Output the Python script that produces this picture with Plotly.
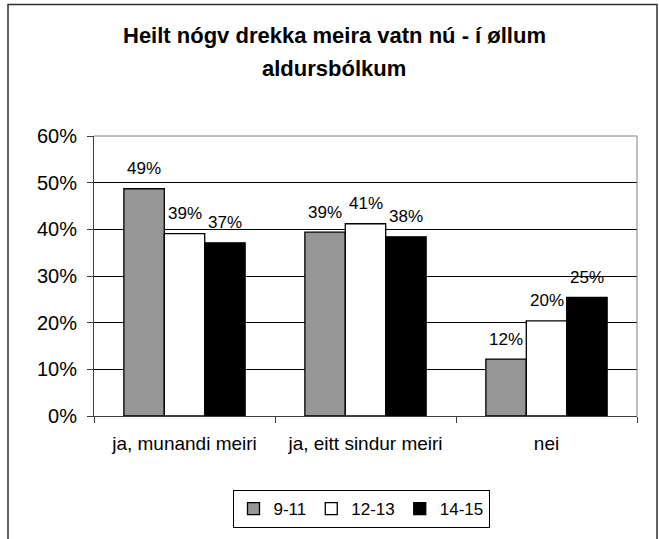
import plotly.graph_objects as go

categories = ["ja, munandi meiri", "ja, eitt sindur meiri", "nei"]
series_names = ["9-11", "12-13", "14-15"]
values_9_11 = [0.487, 0.394, 0.122]
values_12_13 = [0.391, 0.412, 0.204]
values_14_15 = [0.371, 0.384, 0.254]
label_9_11 = ["49%", "39%", "12%"]
label_12_13 = ["39%", "41%", "20%"]
label_14_15 = ["37%", "38%", "25%"]
y_ticks = [0, 0.1, 0.2, 0.3, 0.4, 0.5, 0.6]
y_tick_labels = ["0%", "10%", "20%", "30%", "40%", "50%", "60%"]
title_lines = ["Heilt nógv drekka meira vatn nú - í øllum", "aldursbólkum"]

colors = ["#969696", "#ffffff", "#000000"]
series_values = [values_9_11, values_12_13, values_14_15]
series_labels = [label_9_11, label_12_13, label_14_15]

FONT = "Liberation Sans, Arial, sans-serif"
W, H = 659, 539
L, R, T, B = 94, 22, 136, 122
plot_w = W - L - R
plot_h = H - T - B
bargap = 0.33

fig = go.Figure()
for name, vals, col in zip(series_names, series_values, colors):
    fig.add_trace(go.Bar(
        name=name, x=categories, y=vals,
        marker=dict(color=col, line=dict(color="#000000", width=1.3)),
    ))

# data labels above bars
cat_px = plot_w / len(categories)
bar_px = cat_px * (1 - bargap) / len(series_names)
annotations = []
for i, (vals, labs) in enumerate(zip(series_values, series_labels)):
    shift = (i - (len(series_names) - 1) / 2) * bar_px
    for c, v, t in zip(categories, vals, labs):
        annotations.append(dict(
            x=c, y=v, xref="x", yref="y", text=t, showarrow=False,
            xshift=shift, yshift=20, yanchor="middle",
            font=dict(family=FONT, size=17, color="#000000"),
        ))

def px_x(px):
    return (px - L) / plot_w

def px_y(py):
    return (H - B - py) / plot_h

annotations.append(dict(x=px_x(334), y=px_y(35), xref="paper", yref="paper",
                        text="<b>%s</b>" % title_lines[0], showarrow=False,
                        yanchor="middle", font=dict(family=FONT, size=22, color="#000000")))
annotations.append(dict(x=px_x(334), y=px_y(68), xref="paper", yref="paper",
                        text="<b>%s</b>" % title_lines[1], showarrow=False,
                        yanchor="middle", font=dict(family=FONT, size=22, color="#000000")))

shapes = [
    # outer chart border
    dict(type="rect", xref="paper", yref="paper",
         x0=px_x(8), x1=px_x(657), y0=px_y(570), y1=px_y(4),
         line=dict(color="#303030", width=1.5), fillcolor="rgba(0,0,0,0)", layer="above"),
    # plot area top/right border
    dict(type="line", xref="paper", yref="paper", x0=0, x1=1, y0=1, y1=1,
         line=dict(color="#808080", width=1)),
    dict(type="line", xref="paper", yref="paper", x0=1, x1=1, y0=0, y1=1,
         line=dict(color="#808080", width=1)),
]

fig.update_layout(
    width=W, height=H,
    margin=dict(l=L, r=R, t=T, b=B, pad=0),
    paper_bgcolor="#ffffff", plot_bgcolor="#ffffff",
    barmode="group", bargap=bargap, bargroupgap=0,
    showlegend=True,
    legend=dict(orientation="h", x=px_x(361), y=px_y(509), xanchor="center", yanchor="middle",
                bordercolor="#000000", borderwidth=1, bgcolor="#ffffff",
                font=dict(family=FONT, size=17, color="#000000"),
                itemwidth=30, traceorder="normal"),
    annotations=annotations,
    shapes=shapes,
    font=dict(family=FONT, color="#000000"),
)
fig.update_xaxes(
    showline=True, linecolor="#404040", linewidth=1,
    ticks="outside", tickson="boundaries", ticklen=6, tickcolor="#404040",
    ticklabelstandoff=10,
    tickfont=dict(family=FONT, size=19, color="#000000"),
    showgrid=False, zeroline=False,
)
fig.update_yaxes(
    range=[0, 0.6], tickvals=y_ticks, ticktext=y_tick_labels,
    showline=True, linecolor="#404040", linewidth=1,
    ticks="outside", ticklen=6, tickcolor="#404040",
    ticklabelstandoff=6,
    tickfont=dict(family=FONT, size=20, color="#000000"),
    showgrid=True, gridcolor="#000000", gridwidth=1, zeroline=False,
)

fig.write_html("out.html", config={"displayModeBar": False},
               post_script="document.body.style.margin='0';")
